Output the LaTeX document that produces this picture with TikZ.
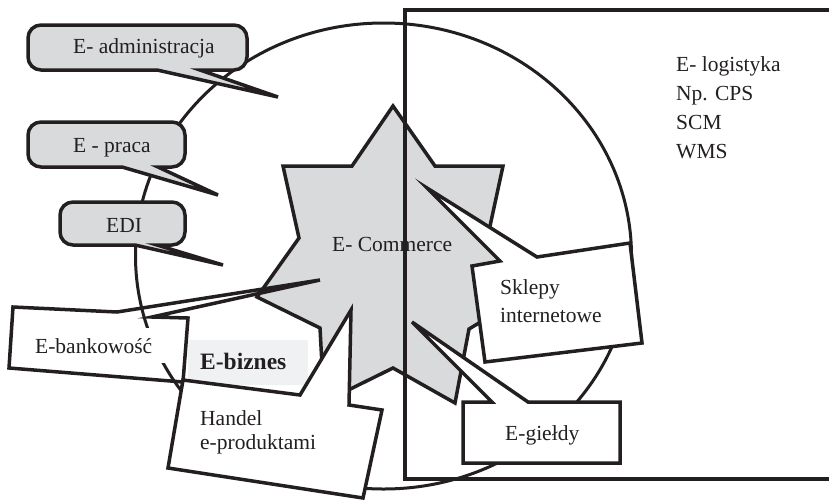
\documentclass[tikz,border=0pt]{standalone}
\usepackage{fontspec}
\setmainfont{Liberation Serif}
\definecolor{ink}{HTML}{231F20}
\definecolor{stargrey}{HTML}{D9DADC}
\definecolor{bizgrey}{HTML}{F0F1F3}
\newcommand{\mycallout}[8]{%
  \filldraw[greycall] ({#1+13},#2) -- ({#3-13},#2) arc[start angle=-90,end angle=0,radius=13]
   -- (#3,{#4-13}) arc[start angle=0,end angle=90,radius=13]
   -- (#6,#4) -- (#7,#8) -- (#5,#4)
   -- ({#1+13},#4) arc[start angle=90,end angle=180,radius=13]
   -- (#1,{#2+13}) arc[start angle=180,end angle=270,radius=13] -- cycle;}
\begin{document}
\begin{tikzpicture}[x=1pt,y=-1pt,
  outl/.style={draw=ink, line width=3.5pt},
  greycall/.style={outl, fill=stargrey},
  whitecall/.style={outl, fill=white},
  lbl/.style={font=\fontsize{21.5}{25}\selectfont, text=ink, inner sep=0pt, anchor=base west}]
\useasboundingbox (0,0) rectangle (829,501);
\clip (0,0) rectangle (829,501);
% big circle
\draw[outl, line width=3pt] (383.5,256) ellipse [x radius=248, y radius=233];
% star
\filldraw[greycall] (393,106) -- (435,166) -- (503,166) -- (487,240) -- (550,280) -- (469,329)
  -- (455,403) -- (393,368) -- (324,402) -- (320,328) -- (257,297) -- (299,238) -- (283,166)
  -- (352,166) -- cycle;
% E-bankowosc callout (outline only)
\draw[outl] (13,307) -- (117,312) -- (320,280) -- (152,317) -- (188,318) -- (183,382) -- (9,368) -- cycle;
% grey rounded callouts
\mycallout{28}{25}{247}{70}{157}{200}{278}{97}
\mycallout{28}{122}{185}{167}{122}{158}{218}{195}
\mycallout{60}{202}{185}{245}{135}{157}{223}{265}
\node[lbl] (ecom) at (332,251) {E- Commerce};
% big rectangle
\draw[outl] (405,10) rectangle (860,479);
% E-bankowosc text
\node[lbl, fill=white, inner xsep=13pt, inner ysep=10pt] (bank) at (22,353) {E-bankowość};
% E-biznes
\fill[bizgrey] (188,340) rectangle (308,385);
\node[lbl, font=\fontsize{23.5}{27}\selectfont\bfseries] (biz) at (200,369) {E-biznes};
% Handel callout
\filldraw[whitecall] (183,380) -- (300,395) -- (351,310) -- (349,405) -- (382,410) -- (363,498) -- (168,468) -- cycle;
% Sklepy callout
\filldraw[whitecall] (427,188) -- (537,257) -- (630,243) -- (642,343) -- (485,362) -- (472,266) -- (500,261) -- cycle;
% E-gieldy callout
\filldraw[whitecall] (412,322) -- (528,402) -- (620,402) -- (620,463) -- (463,463) -- (463,402) -- (492,402) -- cycle;
% texts
\node[lbl] (adm) at (73,53) {E- administracja};
\node[lbl] (praca) at (73,152) {E - praca};
\node[lbl] (edi) at (106,232) {EDI};
\node[lbl] (hand1) at (200,425) {Handel};
\node[lbl] (hand2) at (200,449) {e-produktami};
\node[lbl] (skl1) at (500,294) {Sklepy};
\node[lbl] (skl2) at (500,322) {internetowe};
\node[lbl] (gield) at (505,440) {E-giełdy};
\node[lbl] (log1) at (676,71) {E- logistyka};
\node[lbl] (log2) at (676,100) {Np. CPS};
\node[lbl] (log3) at (676,129) {SCM};
\node[lbl] (log4) at (676,158) {WMS};
\end{tikzpicture}
\end{document}
